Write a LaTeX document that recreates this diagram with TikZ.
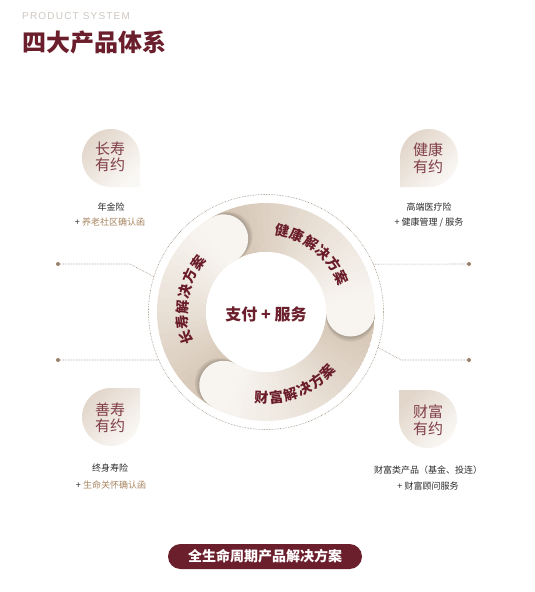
\documentclass[tikz,border=0pt]{standalone}
\usepackage{fontspec}
\setmainfont{Noto Sans CJK SC}
\newfontfamily\latfont[LetterSpace=12]{Liberation Sans}
\usetikzlibrary{calc}
\definecolor{maroon}{HTML}{6B1E2B}
\definecolor{ringtext}{HTML}{6A1C29}
\definecolor{droptx}{HTML}{7F3D47}
\definecolor{lbltx}{HTML}{2A2A2A}
\definecolor{goldtx}{HTML}{A88560}
\definecolor{connc}{HTML}{9C8B7B}
\definecolor{dotc}{HTML}{9A8068}
\definecolor{seglight}{HTML}{F8F5F1}
\definecolor{segdark}{HTML}{D3C2B0}
\definecolor{dropin}{HTML}{FAF8F5}
\definecolor{dropout}{HTML}{E2D6CA}
\definecolor{engray}{HTML}{CFC8C2}
\tikzset{
  ringchar/.style={font=\bfseries\fontsize{14}{14}\selectfont, text=ringtext, inner sep=0pt},
  droptext/.style={font=\fontsize{15}{16.5}\selectfont, text=droptx, align=center, inner sep=0pt},
  lbl/.style={font=\fontsize{9}{9}\selectfont, text=lbltx, inner sep=0pt},
  lblgold/.style={font=\fontsize{9}{9}\selectfont, text=goldtx, inner sep=0pt},
  conn/.style={densely dotted, draw=connc, line width=0.6pt},
  dotnode/.style={circle, fill=dotc, inner sep=0pt, minimum size=4pt},
}
\begin{document}
\begin{tikzpicture}[x=1pt,y=-1pt]
\useasboundingbox (0,0) rectangle (535,592);
\fill[white] (0,0) rectangle (535,592);

% header
\node[anchor=west, inner sep=0pt, text=engray, font=\fontsize{10}{10}\selectfont] (en) at (22,16) {\latfont PRODUCT SYSTEM};
\node[anchor=west, inner sep=0pt, text=maroon, font=\bfseries\fontsize{24}{24}\selectfont] (title) at (22,42) {四大产品体系};

% teardrops
\foreach \cx/\cy/\d in {111/158/-45, 429/158/-135, 111/417/45, 428/419/135} {
  \begin{scope}[shift={(\cx,\cy)}, y=1pt]
    \shade[top color=dropout, bottom color=dropin, shading angle=45]
      ({\d-45}:29) -- ({\d}:{29*sqrt(2)}) -- ({\d+45}:29)
      arc[start angle=\d+45, end angle=\d+315, radius=29] -- cycle;
  \end{scope}
}
\node[droptext] (t1) at (110,157) {长寿\\有约};
\node[droptext] (t2) at (428,158) {健康\\有约};
\node[droptext] (t3) at (110,418) {善寿\\有约};
\node[droptext] (t4) at (428,420) {财富\\有约};

% labels
\node[lbl] (l1a) at (111,207) {年金险};
\node[lblgold] (l1b) at (110,222) {{\color{lbltx}+} 养老社区确认函};
\node[lbl] (l2a) at (429,207) {高端医疗险};
\node[lbl] (l2b) at (429,222) {+ 健康管理 / 服务};
\node[lbl] (l3a) at (110,468) {终身寿险};
\node[lblgold] (l3b) at (111,485) {{\color{lbltx}+} 生命关怀确认函};
\node[lbl] (l4a) at (428,470) {财富类产品（基金、投连）};
\node[lbl] (l4b) at (428,486) {+ 财富顾问服务};

% ring
\begin{scope}[shift={(266,312)}, y=1pt]
  \begin{scope}
    \clip (0,0) circle[radius=109];
    \foreach \h in {0,120,240} {
      \foreach \k in {0,...,29} {
        \pgfmathsetmacro\aa{\h+\k*4}
        \pgfmathsetmacro\ab{\aa+4.3}
        \pgfmathtruncatemacro\pp{100*(\k/29)^1.2}
        \fill[segdark!\pp!seglight] (\aa:109) arc[start angle=\aa, end angle=\ab, radius=109]
          -- (\ab:60) arc[start angle=\ab, end angle=\aa, radius=60] -- cycle;
      }
    }
    \foreach \h in {0,120,240} {
      \foreach \s in {1,...,6} {
        \fill[black, opacity=0.035, shift={({\h-90}:{\s*0.9})}]
          ({\h+8}:109) arc[start angle=\h+8, end angle=\h, radius=109]
          arc[start angle=\h, end angle=\h-180, radius=24.5]
          arc[start angle=\h, end angle=\h+8, radius=60] -- cycle;
      }
      \fill[seglight]
        ({\h+8}:109) arc[start angle=\h+8, end angle=\h, radius=109]
        arc[start angle=\h, end angle=\h-180, radius=24.5]
        arc[start angle=\h, end angle=\h+8, radius=60] -- cycle;
    }
  \end{scope}
  \fill[white] (0,0) circle[radius=60];
  \draw[conn] (0,0) circle[radius=117.5];

  \node[text=maroon, inner sep=0pt, font=\bfseries\fontsize{16}{16}\selectfont] (center) at (0,-2) {支付 + 服务};

  \foreach \c [count=\i from 0] in {长,寿,解,决,方,案} {
    \pgfmathsetmacro\t{198-\i*10.8}
    \node[ringchar, rotate=\t-90] (la\i) at (\t:84) {\c};
  }
  \foreach \c [count=\i from 0] in {健,康,解,决,方,案} {
    \pgfmathsetmacro\t{78.5-\i*10.8}
    \node[ringchar, rotate=\t-90] (lb\i) at (\t:83) {\c};
  }
  \foreach \c [count=\i from 0] in {财,富,解,决,方,案} {
    \pgfmathsetmacro\t{267+\i*9.8}
    \node[ringchar, rotate=\t+90] (lc\i) at (\t:86) {\c};
  }

  \coordinate (cLU) at (162.5:117.5);
  \coordinate (cLL) at (204.1:117.5);
  \coordinate (cRU) at (24:117.5);
  \coordinate (cRL) at (-17.5:117.5);
\end{scope}

% connectors
\node[dotnode] (dLU) at (58,264) {};
\node[dotnode] (dLL) at (58,360) {};
\node[dotnode] (dRU) at (469,264) {};
\node[dotnode] (dRL) at (469,360) {};
\coordinate (bLU) at (130,264);
\coordinate (bRL) at (401,360);
\draw[conn] (dLU) -- (bLU) -- (cLU);
\draw[conn] (dLL) -- (cLL);
\draw[conn] (cRU) -- (dRU);
\draw[conn] (cRL) -- (bRL) -- (dRL);

% bottom pill
\node[fill=maroon, rounded corners=12.5pt, minimum width=194pt, minimum height=25pt, inner sep=0pt,
      text=white, font=\bfseries\fontsize{14}{14}\selectfont] (pill) at (265,556.5) {全生命周期产品解决方案};
\end{tikzpicture}
\end{document}
